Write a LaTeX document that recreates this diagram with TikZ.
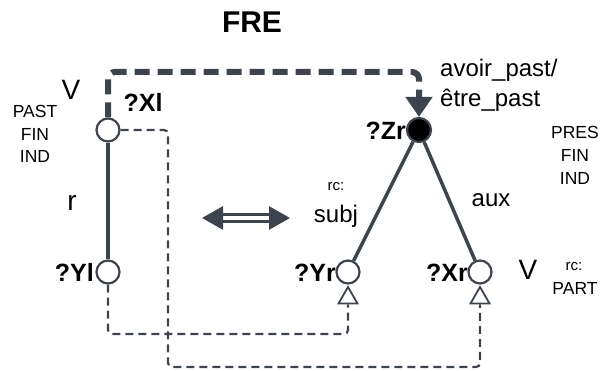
\documentclass[tikz,border=0pt]{standalone}
\usepackage{fontspec}
\setmainfont{Liberation Sans}
\usetikzlibrary{arrows.meta,shapes.geometric}
\definecolor{ink}{RGB}{62,68,77}

\begin{document}
\begin{tikzpicture}[x=1pt,y=-1pt,
  title/.style={inner sep=0pt, anchor=base, font=\bfseries\fontsize{30}{34}\selectfont},
  lbl/.style={inner sep=0pt, anchor=base, font=\fontsize{24}{28}\selectfont},
  big/.style={inner sep=0pt, anchor=base, font=\fontsize{28}{32}\selectfont},
  vname/.style={inner sep=0pt, anchor=base, font=\bfseries\fontsize{25}{29}\selectfont},
  feat/.style={inner sep=0pt, anchor=base, font=\fontsize{17.5}{20}\selectfont},
  small/.style={inner sep=0pt, anchor=base, font=\fontsize{15}{17}\selectfont},
  open/.style={circle, draw=ink, line width=2.2pt, fill=white, minimum size=23pt, inner sep=0pt},
  closed/.style={circle, draw=ink, line width=2.2pt, fill=black, minimum size=24pt, inner sep=0pt},
  tri/.style={regular polygon, regular polygon sides=3, draw=ink, line width=1.8pt, fill=white, minimum size=22pt, inner sep=0pt},
  branch/.style={draw=ink, line width=3.5pt},
  corefer/.style={draw=ink, line width=6pt, dash pattern=on 15pt off 8pt, rounded corners=7pt},
  link/.style={draw=ink, line width=2.2pt, dash pattern=on 8pt off 5pt, rounded corners=4pt},
  swap/.style={draw=ink, line width=3pt, double=white, double distance=3.5pt},
]
\useasboundingbox (0,0) rectangle (601,371);

% feature-structure nodes
\node[open] (Xl) at (108,130) {};
\node[open] (Yl) at (108,272) {};
\node[closed] (Zr) at (419,130) {};
\node[open] (Yr) at (348,272) {};
\node[open] (Xr) at (480,272) {};
\node[tri] (Yt) at (348,298) {};
\node[tri] (Xt) at (480,298) {};

% bend points of the connectors
\coordinate (c1) at (108,72);
\coordinate (c2) at (419,72);
\coordinate (d1) at (168,130);
\coordinate (d2) at (168,367);
\coordinate (d3) at (480,367);
\coordinate (e1) at (108,334);
\coordinate (e2) at (348,334);
\coordinate (s1) at (202,218);
\coordinate (s2) at (290,218);

% tree edges
\draw[branch] (Xl) -- (Yl);
\draw[branch] (Zr) -- (Yr);
\draw[branch] (Zr) -- (Xr);

% correspondence links
\path[corefer, -{Triangle[length=20pt,width=26pt]}] (Xl.north) -- (c1) -- (c2) -- (Zr.north);
\path[link] (Xl.east) -- (d1) -- (d2) -- (d3) -- (Xt.south);
\path[link] (Yl.south) -- (e1) -- (e2) -- (Yt.south);

% equivalence arrow
\draw[swap, {Triangle[length=21pt,width=23pt]}-{Triangle[length=21pt,width=23pt]}] (s1) -- (s2);

% texts
\node[title] (fre) at (252,33) {FRE};
\node[vname] (XlL) at (143,112) {?Xl};
\node[vname, anchor=base east] (YlL) at (94,281) {?Yl};
\node[vname, anchor=base east] (ZrL) at (406,140) {?Zr};
\node[vname, anchor=base east] (YrL) at (336,281) {?Yr};
\node[vname, anchor=base east] (XrL) at (468,281) {?Xr};

\node[big] (vl) at (71,100) {V};
\node[feat] (pastl) at (35,118) {PAST};
\node[feat] (finl) at (35,141) {FIN};
\node[feat] (indl) at (35,163) {IND};
\node[big] (r) at (72,211) {r};
\node[small] (rcl) at (336,190) {rc:};
\node[lbl] (subj) at (336,222) {subj};
\node[lbl] (aux) at (491,207) {aux};
\node[lbl, anchor=base west] (avoir) at (440,77) {avoir\_past/};
\node[lbl, anchor=base west] (etre) at (440,107) {être\_past};
\node[feat] (presr) at (575,139) {PRES};
\node[feat] (finr) at (575,162) {FIN};
\node[feat] (indr) at (575,185) {IND};
\node[big] (vr) at (528,279) {V};
\node[small] (rcr) at (574,270) {rc:};
\node[feat] (part) at (575,294) {PART};
\end{tikzpicture}
\end{document}
